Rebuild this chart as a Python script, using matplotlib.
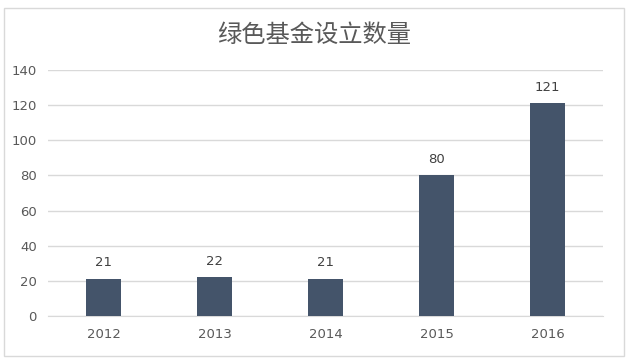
import matplotlib
matplotlib.use("Agg")
import matplotlib.pyplot as plt
from matplotlib.patches import Rectangle

plt.rcParams['font.family'] = ['Noto Sans CJK SC', 'DejaVu Sans']

years = ['2012', '2013', '2014', '2015', '2016']
counts = [21, 22, 21, 80, 121]
title = '绿色基金设立数量'

W, H = 630, 363
fig = plt.figure(figsize=(W/100, H/100), dpi=100)
fig.patches.append(Rectangle((4/W, (H-356)/H), 620/W, 348/H, transform=fig.transFigure,
                             fill=False, edgecolor='#D9D9D9', linewidth=1))
ax = fig.add_axes([48/W, (H-316)/H, 555/W, 246/H])
x = list(range(len(years)))
bars = ax.bar(x, counts, width=0.32, color='#44546A', zorder=3)
ax.set_xlim(-0.5, 4.5)
ax.set_ylim(0, 140)
ax.set_yticks(range(0, 141, 20))
ax.set_xticks(x)
ax.set_xticklabels(years)
ax.yaxis.grid(True, color='#D9D9D9', linewidth=1, zorder=0)
for s in ['top', 'right', 'left']:
    ax.spines[s].set_visible(False)
ax.spines['bottom'].set_color('#D9D9D9')
ax.tick_params(axis='both', length=0, labelsize=9.5, colors='#595959')
ax.tick_params(axis='x', pad=9)
ax.tick_params(axis='y', pad=8)
for xi, v in zip(x, counts):
    ax.annotate(str(v), (xi, v), xytext=(0, 7), textcoords='offset points',
                ha='center', va='bottom', fontsize=9.5, color='#404040',
                family='DejaVu Sans')
for lbl in ax.get_xticklabels() + ax.get_yticklabels():
    lbl.set_family('DejaVu Sans')
fig.text(314/W, (H-35)/H, title, ha='center', va='center', fontsize=17.5,
         color='#595959', fontweight='light')
fig.savefig('out.png', dpi=100)
